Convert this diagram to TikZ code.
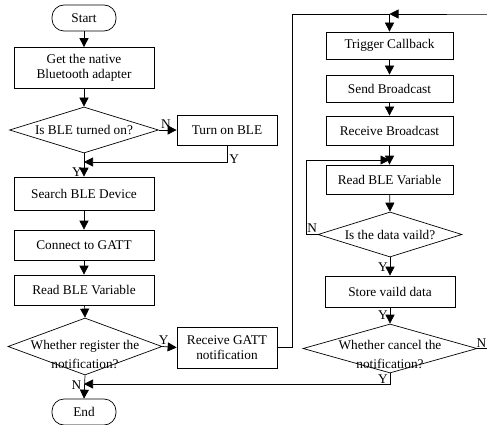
\documentclass[tikz,border=0pt]{standalone}
\usepackage{fontspec}
\setmainfont{Liberation Serif}
\usetikzlibrary{shapes.geometric,arrows.meta}
\begin{document}
\begin{tikzpicture}[y=-1pt, x=1pt, font=\fontsize{13.3}{15}\selectfont,
  box/.style={draw, line width=0.7pt, inner sep=0pt, align=center},
  term/.style={draw, line width=0.7pt, rounded corners=12pt, minimum width=64pt, minimum height=26pt},
  decision/.style={draw, diamond, line width=0.7pt, inner sep=0pt},
  line/.style={line width=0.7pt},
  arr/.style={line width=0.7pt, -{Triangle[length=9pt,width=9pt]}}]
\useasboundingbox (0,0) rectangle (487,425);
\clip (0,0) rectangle (487,425);

\node[term] (start) at (84,18) {Start};
\node[box, minimum width=140pt, minimum height=41pt] (native) at (84,68) {Get the native\\Bluetooth adapter};
\node[decision, minimum width=149pt, minimum height=46pt,
  label={center:Is BLE turned on?}] (isble) at (84,130) {};
\node[box, minimum width=100pt, minimum height=30pt] (turnon) at (227,130) {Turn on BLE};
\node[box, minimum width=140pt, minimum height=33pt] (search) at (84,193.5) {Search BLE Device};
\node[box, minimum width=140pt, minimum height=30pt] (connect) at (84,245) {Connect to GATT};
\node[box, minimum width=140pt, minimum height=30pt] (readl) at (84,290) {Read BLE Variable};
\node[decision, minimum width=154pt, minimum height=57pt,
  label={[align=center, font=\fontsize{13.3}{19}\selectfont, yshift=-8pt]center:Whether register the\\notification?}] (regq) at (85,346.5) {};
\node[box, minimum width=100pt, minimum height=41pt] (gatt) at (227,347.5) {Receive GATT\\notification};
\node[term] (endn) at (84,412) {End};

\node[box, minimum width=127pt, minimum height=27pt] (trigger) at (389.5,45.5) {Trigger Callback};
\node[box, minimum width=127pt, minimum height=27pt] (send) at (389.5,88.5) {Send Broadcast};
\node[box, minimum width=127pt, minimum height=29pt] (recvb) at (389.5,130.5) {Receive Broadcast};
\node[box, minimum width=127pt, minimum height=29pt] (readr) at (389.5,179.5) {Read BLE Variable};
\node[decision, minimum width=144pt, minimum height=45pt,
  label={center:Is the data vaild?}] (valid) at (390,234.5) {};
\node[box, minimum width=130pt, minimum height=31pt] (store) at (390,291.5) {Store vaild data};
\node[decision, minimum width=174pt, minimum height=49pt,
  label={[align=center, font=\fontsize{13.3}{19}\selectfont, yshift=-6pt]center:Whether cancel the\\notification?}] (cancel) at (390,348.5) {};

\coordinate (j1) at (84,162);
\coordinate (j2) at (84,384);
\coordinate (top) at (389.5,14);
\coordinate (mid) at (389.5,160);
\coordinate (far) at (495,14);

\draw[arr] (start) -- (native);
\draw[arr] (native) -- (isble.north);
\draw[arr] (isble.east) -- (turnon.west) node[pos=0.05, above right, inner sep=1pt] {N};
\draw[arr] (isble.south) -- (search.north) node[pos=0.8, left, inner sep=2pt] {Y};
\draw[arr] (turnon.south) |- (j1) node[pos=0.4, right, inner sep=2pt] {Y};
\draw[arr] (search) -- (connect);
\draw[arr] (connect) -- (readl);
\draw[arr] (readl) -- (regq.north);
\draw[arr] (regq.east) -- (gatt.west) node[pos=0.1, above, inner sep=2pt] {Y};
\draw[arr] (regq.south) -- (endn.north) node[pos=0.42, left, inner sep=3pt] {N};
\draw[arr] (gatt.east) -- ++(15,0) |- (top) -- (trigger.north);

\draw[arr] (trigger) -- (send);
\draw[arr] (send) -- (recvb);
\draw[arr] (recvb) -- (readr);
\draw[arr] (readr) -- (valid.north);
\draw[arr] (valid.west) -- ++(-11,0) node[midway, above, inner sep=2pt] {N} |- (mid);
\draw[arr] (valid.south) -- (store.north) node[pos=0.55, left, inner sep=2pt] {Y};
\draw[arr] (store.south) -- (cancel.north) node[pos=0.5, left, inner sep=2pt] {Y};
\draw[arr] (cancel.east) -- ++(18,0) node[pos=0, above right, inner sep=1pt, xshift=-2pt] {N} |- (far) -- (top);
\draw[arr] (cancel.south) |- (j2) node[pos=0.25, left, inner sep=2pt] {Y};
\end{tikzpicture}
\end{document}
